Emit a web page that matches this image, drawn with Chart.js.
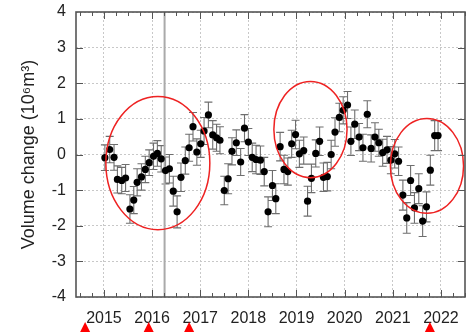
<!DOCTYPE html>
<html lang="en">
<head>
  <meta charset="UTF-8">
  <title>Volume change</title>
  <script src="https://cdn.jsdelivr.net/npm/chart.js"></script>
  <style>
    html, body { margin: 0; padding: 0; background: #fff; }
  </style>
</head>
<body>

<canvas id="volChart" width="469" height="332"></canvas>

<script>
  // monthly volume change estimates (decimal year, 10^6 m^3, +/- error)
  const times = [
    2015.02, 2015.12, 2015.21, 2015.28, 2015.37, 2015.45, 2015.54, 2015.62, 2015.69, 2015.78,
    2015.86, 2015.94, 2016.03, 2016.11, 2016.19, 2016.28, 2016.36, 2016.44, 2016.52, 2016.60,
    2016.69, 2016.77, 2016.85, 2016.93, 2017.01, 2017.08, 2017.17, 2017.26, 2017.34, 2017.41,
    2017.50, 2017.58, 2017.66, 2017.75, 2017.84, 2017.92, 2018.00, 2018.08, 2018.16, 2018.25,
    2018.33, 2018.41, 2018.50, 2018.57, 2018.66, 2018.74, 2018.82, 2018.90, 2018.98, 2019.06,
    2019.15, 2019.23, 2019.31, 2019.40, 2019.48, 2019.56, 2019.64, 2019.72, 2019.80, 2019.89,
    2019.97, 2020.06, 2020.13, 2020.21, 2020.30, 2020.38, 2020.47, 2020.55, 2020.63, 2020.71,
    2020.79, 2020.88, 2020.96, 2021.04, 2021.12, 2021.21, 2021.29, 2021.37, 2021.45, 2021.54,
    2021.62, 2021.70, 2021.78, 2021.87, 2021.94
  ];
  const volumes = [
    -0.09, 0.14, -0.08, -0.70, -0.73, -0.66, -1.53, -1.28, -0.78, -0.63,
    -0.42, -0.23, -0.05, 0.03, -0.12, -0.45, -0.40, -1.03, -1.61, -0.64,
    -0.17, 0.19, 0.78, 0.07, 0.30, 0.66, 1.11, 0.55, 0.47, 0.40,
    -1.01, -0.68, 0.09, 0.33, -0.21, 0.74, 0.35, -0.08, -0.14, -0.16,
    -0.48, -1.61, -0.87, -1.24, 0.22, -0.42, -0.48, 0.30, 0.56, 0.02,
    0.11, -1.31, -0.67, 0.03, 0.37, -0.64, -0.62, 0.00, 0.63, 1.04,
    1.24, 1.39, 0.37, 0.85, 0.49, 0.19, 1.13, 0.17, 0.49, 0.33,
    0.05, 0.13, -0.16, 0.02, -0.19, -1.14, -1.78, -0.73, -1.50, -0.96,
    -1.87, -1.47, -0.44, 0.53, 0.53
  ];
  const errors = [
    0.36, 0.37, 0.36, 0.38, 0.37, 0.38, 0.40, 0.38, 0.38, 0.37,
    0.37, 0.36, 0.37, 0.36, 0.37, 0.38, 0.40, 0.42, 0.45, 0.40,
    0.38, 0.38, 0.40, 0.37, 0.38, 0.38, 0.36, 0.40, 0.38, 0.38,
    0.40, 0.42, 0.38, 0.36, 0.38, 0.38, 0.38, 0.40, 0.40, 0.40,
    0.40, 0.42, 0.42, 0.42, 0.40, 0.40, 0.38, 0.38, 0.40, 0.38,
    0.38, 0.42, 0.40, 0.38, 0.40, 0.40, 0.40, 0.40, 0.40, 0.40,
    0.38, 0.38, 0.40, 0.40, 0.38, 0.38, 0.38, 0.38, 0.40, 0.38,
    0.38, 0.38, 0.38, 0.40, 0.40, 0.42, 0.43, 0.42, 0.43, 0.42,
    0.43, 0.42, 0.42, 0.42, 0.42
  ];
  const yearTicks = [2015, 2016, 2017, 2018, 2019, 2020, 2021, 2022];
  const eventTimes = [2014.61, 2015.93, 2016.77, 2021.77];   // red triangles under the axis
  const markerTime = 2016.26;                                // grey vertical line
  // highlighted periods (ellipses, in data units)
  const ellipseCx = [2016.12, 2019.29, 2021.71];
  const ellipseCy = [-0.24, 0.70, -0.32];
  const ellipseRx = [1.08, 0.76, 0.76];
  const ellipseRy = [1.87, 1.35, 1.33];

  const FONT = "'Liberation Sans', Arial, sans-serif";

  const errorBars = {
    id: 'errorBars',
    beforeDatasetsDraw(chart) {
      const { ctx, scales: { x, y } } = chart;
      ctx.save();
      ctx.strokeStyle = '#6e6e6e';
      ctx.lineWidth = 1.1;
      ctx.beginPath();
      times.forEach((t, i) => {
        const px = x.getPixelForValue(t);
        const top = y.getPixelForValue(volumes[i] + errors[i]);
        const bot = y.getPixelForValue(volumes[i] - errors[i]);
        ctx.moveTo(px, top); ctx.lineTo(px, bot);
        ctx.moveTo(px - 4, top); ctx.lineTo(px + 4, top);
        ctx.moveTo(px - 4, bot); ctx.lineTo(px + 4, bot);
      });
      ctx.stroke();
      ctx.restore();
    }
  };

  const frameAndEllipses = {
    id: 'frameAndEllipses',
    afterDatasetsDraw(chart) {
      const { ctx, chartArea: a, scales: { x, y } } = chart;
      ctx.save();
      // red ellipses
      ctx.strokeStyle = '#ee2222';
      ctx.lineWidth = 1.5;
      ellipseCx.forEach((cx, i) => {
        const px = x.getPixelForValue(cx);
        const py = y.getPixelForValue(ellipseCy[i]);
        const rx = x.getPixelForValue(cx + ellipseRx[i]) - px;
        const ry = py - y.getPixelForValue(ellipseCy[i] + ellipseRy[i]);
        ctx.beginPath();
        ctx.ellipse(px, py, rx, ry, 0, 0, Math.PI * 2);
        ctx.stroke();
      });
      // inward ticks
      ctx.strokeStyle = '#555';
      ctx.lineWidth = 1;
      ctx.beginPath();
      for (let q = 2014.5; q <= 2022.5; q += 0.25) {
        const px = Math.round(x.getPixelForValue(q)) + 0.5;
        const len = Number.isInteger(q) ? 7 : 4;
        ctx.moveTo(px, a.bottom); ctx.lineTo(px, a.bottom - len);
        ctx.moveTo(px, a.top); ctx.lineTo(px, a.top + len);
      }
      for (let v = -3; v <= 3; v++) {
        const py = Math.round(y.getPixelForValue(v)) + 0.5;
        ctx.moveTo(a.left, py); ctx.lineTo(a.left + 7, py);
        ctx.moveTo(a.right, py); ctx.lineTo(a.right - 7, py);
      }
      ctx.stroke();
      // frame
      ctx.strokeStyle = '#555';
      ctx.lineWidth = 1.6;
      ctx.strokeRect(a.left, a.top, a.right - a.left, a.bottom - a.top);
      ctx.restore();
    },
    afterDraw(chart) {
      // event triangles below the year labels
      const { ctx, scales: { x } } = chart;
      ctx.save();
      ctx.fillStyle = '#ff0000';
      eventTimes.forEach(t => {
        const px = x.getPixelForValue(t);
        ctx.beginPath();
        ctx.moveTo(px, 322);
        ctx.lineTo(px + 7, 336);
        ctx.lineTo(px - 7, 336);
        ctx.closePath();
        ctx.fill();
      });
      ctx.restore();
    }
  };

  const ctx = document.getElementById('volChart').getContext('2d');

  new Chart(ctx, {
    type: 'scatter',
    data: {
      datasets: [
        {
          label: 'Volume change',
          data: times.map((t, i) => ({ x: t, y: volumes[i] })),
          backgroundColor: '#000',
          borderWidth: 0,
          pointRadius: 3.6,
          order: 1
        },
        {
          label: 'Marker',
          type: 'line',
          data: [{ x: markerTime, y: -4 }, { x: markerTime, y: 4 }],
          borderColor: '#aaaaaa',
          borderWidth: 2,
          pointRadius: 0,
          order: 3
        }
      ]
    },
    options: {
      responsive: false,
      animation: false,
      events: [],
      layout: { padding: { top: 12, right: 4, left: 0, bottom: 0 } },
      plugins: {
        legend: { display: false },
        tooltip: { enabled: false }
      },
      scales: {
        x: {
          type: 'linear',
          min: 2014.42,
          max: 2022.5,
          afterBuildTicks: s => { s.ticks = yearTicks.map(v => ({ value: v })); },
          afterFit: s => { s.height = 35; s.paddingLeft = 0; s.paddingRight = 0; },
          ticks: {
            color: '#222',
            font: { family: FONT, size: 16 },
            padding: 12,
            maxRotation: 0,
            callback: v => String(v)
          },
          grid: { color: '#c8c8c8', lineWidth: 1, drawTicks: false },
          border: { display: false, dash: [2, 2] }
        },
        y: {
          min: -4,
          max: 4,
          afterFit: s => { s.width = 76; s.paddingTop = 0; s.paddingBottom = 0; },
          ticks: {
            stepSize: 1,
            color: '#222',
            font: { family: FONT, size: 16 },
            padding: 10
          },
          grid: { color: '#c8c8c8', lineWidth: 1, drawTicks: false },
          border: { display: false, dash: [2, 2] },
          title: {
            display: true,
            text: 'Volume change (10\u2076m\u00b3)',
            color: '#222',
            font: { family: FONT, size: 18 },
            padding: { top: 18, bottom: 0 }
          }
        }
      }
    },
    plugins: [errorBars, frameAndEllipses]
  });
</script>

</body>
</html>
